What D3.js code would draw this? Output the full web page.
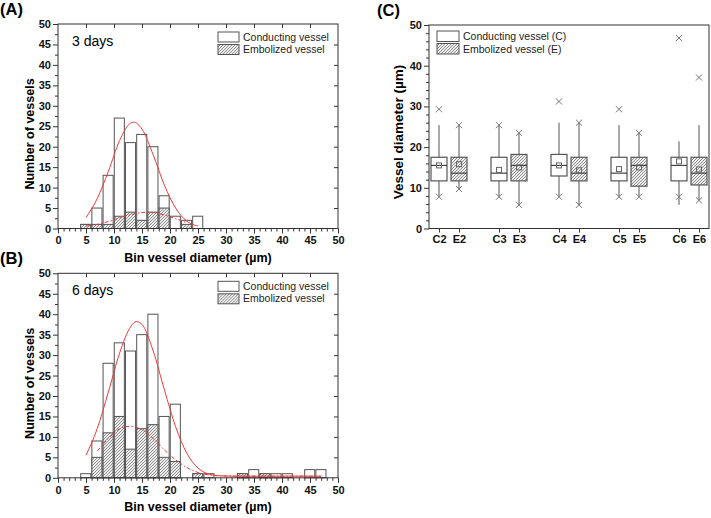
<!DOCTYPE html>
<html>
<head>
<meta charset="utf-8">
<script src="https://cdn.jsdelivr.net/npm/d3@7"></script>
<style>
  body { margin: 0; background: #fff; }
  svg { display: block; font-family: Arial, "Liberation Sans", sans-serif; }
</style>
</head>
<body>
<svg id="chart" width="711" height="518"></svg>
<script>
// ---- panel A (3 days) ----
const binStartsA = [4, 6, 8, 10, 12, 14, 16, 18, 20, 22, 24];
const conductingA = [1, 5, 13, 27, 21, 23, 20, 8, 3, 2, 3];
const embolizedA = [1, 1, 1, 3, 4, 2, 4, 5, 0, 1, 0];
const fitTotalAx = [5, 7, 9, 11, 13, 13.5, 15, 17, 19, 21, 23, 25];
const fitTotalAy = [2.7, 7.3, 14, 21.5, 25.8, 26, 24.3, 18, 10.6, 5, 1.8, 0.6];
const fitEmbAx = [5, 7, 9, 11, 13, 15, 16, 17, 19, 21, 23];
const fitEmbAy = [0.6, 1.0, 1.7, 2.6, 3.4, 3.9, 4.0, 3.9, 3.3, 2.4, 1.4];

// ---- panel B (6 days) ----
const binStartsB = [4, 6, 8, 10, 12, 14, 16, 18, 20, 24, 26, 32, 34, 36, 38, 40, 44, 46];
const conductingB = [1, 9, 28, 33, 31, 35, 40, 15, 18, 1, 1, 1, 2, 1, 1, 1, 2, 2];
const embolizedB = [0, 5, 11, 15, 7, 12, 13, 5, 4, 1, 0, 1, 0, 1, 0, 0, 0, 0];
const fitTotalBx = [5, 7, 9, 11, 13, 14, 15, 17, 19, 21, 23, 25, 27, 29, 32, 40, 47];
const fitTotalBy = [5.5, 12, 21, 30.5, 37, 38.2, 37.5, 31, 21.5, 12.5, 6, 2.4, 0.9, 0.5, 0.4, 0.4, 0.4];
const fitEmbBx = [7, 9, 11, 12.7, 15, 17, 19, 21, 23, 25, 27, 29, 32, 40, 47];
const fitEmbBy = [6.5, 9.6, 12, 12.6, 11.8, 9.6, 6.8, 4.4, 2.5, 1.3, 0.7, 0.45, 0.4, 0.4, 0.4];

// ---- panel C (box plot) ----
const boxLabels = ['C2', 'E2', 'C3', 'E3', 'C4', 'E4', 'C5', 'E5', 'C6', 'E6'];
const whiskerLow = [7.8, 9.7, 7.8, 5.8, 7.8, 5.8, 7.8, 7.8, 5.8, 6.9];
const q1 = [11.7, 11.7, 11.7, 11.7, 12.9, 11.7, 11.7, 10.4, 11.7, 10.7];
const median = [15.5, 13.6, 13.6, 15.5, 15.5, 13.6, 13.6, 15.5, 15.5, 13.6];
const q3 = [17.5, 17.5, 17.5, 18.2, 18.2, 17.5, 17.5, 17.5, 17.5, 17.5];
const whiskerHigh = [25.4, 25.4, 25.4, 23.5, 26.0, 26.0, 25.4, 23.5, 21.4, 25.4];
const means = [15.5, 15.8, 14.4, 15.0, 15.5, 14.3, 14.6, 15.0, 16.5, 14.5];
const minMark = [7.8, 9.7, 7.8, 5.8, 7.8, 5.8, 7.8, 7.8, 7.8, 6.9];
const maxMark = [29.3, 25.4, 25.4, 23.5, 31.2, 26.0, 29.3, 23.5, 46.8, 37.1];

const axisColor = '#333';
const edgeColor = '#555';
const red = '#f03a3a';

const svg = d3.select('#chart');
svg.append('rect').attr('width', 711).attr('height', 518).attr('fill', '#fff');

const defs = svg.append('defs');
const pat = defs.append('pattern')
    .attr('id', 'hatch')
    .attr('patternUnits', 'userSpaceOnUse')
    .attr('width', 3).attr('height', 3);
pat.append('rect').attr('width', 3).attr('height', 3).attr('fill', '#ededed');
pat.append('path')
    .attr('d', 'M-1,1 l2,-2 M0,3 l3,-3 M2,4 l2,-2')
    .attr('stroke', '#666').attr('stroke-width', 0.7);

function histogram(opts) {
  const { top, label, binStarts, conducting, embolized, fitTx, fitTy, fitEx, fitEy, panel, xLabelY } = opts;
  const x = d3.scaleLinear().domain([0, 50]).range([58, 338]);
  const y = d3.scaleLinear().domain([0, 50]).range([top + 204.5, top]);
  const g = svg.append('g');

  // bars: conducting (white), embolized (hatched) drawn over it
  const bars = binStarts.map((s, i) => ({ s, c: conducting[i], e: embolized[i] }));
  g.selectAll('rect.c').data(bars).join('rect')
      .attr('x', d => x(d.s + 0.05))
      .attr('width', d => x(d.s + 1.85) - x(d.s + 0.05))
      .attr('y', d => y(d.c))
      .attr('height', d => y(0) - y(d.c))
      .attr('fill', '#fff').attr('stroke', edgeColor).attr('stroke-width', 1);
  g.selectAll('rect.e').data(bars.filter(d => d.e > 0)).join('rect')
      .attr('x', d => x(d.s + 0.05))
      .attr('width', d => x(d.s + 1.85) - x(d.s + 0.05))
      .attr('y', d => y(d.e))
      .attr('height', d => y(0) - y(d.e))
      .attr('fill', 'url(#hatch)').attr('stroke', edgeColor).attr('stroke-width', 1);

  const line = d3.line().x(d => x(d[0])).y(d => y(d[1])).curve(d3.curveMonotoneX);
  g.append('path').datum(d3.zip(fitEx, fitEy))
      .attr('d', line).attr('fill', 'none').attr('stroke', red)
      .attr('stroke-width', 1).attr('stroke-dasharray', '4,2,1.5,2');
  g.append('path').datum(d3.zip(fitTx, fitTy))
      .attr('d', line).attr('fill', 'none').attr('stroke', red).attr('stroke-width', 1);

  // axes
  g.append('g').attr('transform', `translate(0,${y(0)})`)
      .call(d3.axisBottom(x).tickValues(d3.range(0, 51, 5)).tickSize(5).tickPadding(3));
  g.append('g').attr('transform', `translate(0,${y(0)})`)
      .call(d3.axisBottom(x).tickValues(d3.range(0, 51, 1).filter(v => v % 5)).tickSize(3).tickFormat(''));
  g.append('g').attr('transform', `translate(${x(0)},0)`)
      .call(d3.axisLeft(y).tickValues(d3.range(0, 51, 5)).tickSize(5).tickPadding(2));
  g.append('g').attr('transform', `translate(${x(0)},0)`)
      .call(d3.axisLeft(y).tickValues(d3.range(2.5, 50, 5)).tickSize(3).tickFormat(''));
  g.append('g').attr('transform', `translate(0,${y(50)})`)
      .call(d3.axisBottom(x).tickValues(d3.range(5, 50, 5)).tickSize(4).tickFormat(''));
  g.append('g').attr('transform', `translate(${x(50)},0)`)
      .call(d3.axisRight(y).tickValues(d3.range(5, 50, 5)).tickSize(-4).tickFormat(''));
  g.selectAll('.domain').remove();
  g.selectAll('.tick line').attr('stroke', axisColor);
  g.selectAll('.tick text').attr('font-size', 11).attr('font-weight', 'bold').attr('fill', '#111');
  g.append('rect').attr('x', x(0)).attr('y', y(50)).attr('width', x(50) - x(0))
      .attr('height', y(0) - y(50)).attr('fill', 'none').attr('stroke', axisColor).attr('stroke-width', 1);

  // labels
  g.append('text').attr('x', 72).attr('y', top + 22).attr('font-size', 14).text(label);
  g.append('text').attr('x', 198).attr('y', xLabelY).attr('text-anchor', 'middle')
      .attr('font-size', 12.5).attr('font-weight', 'bold').text('Bin vessel diameter (µm)');
  g.append('text').attr('transform', `translate(34,${top + 110}) rotate(-90)`)
      .attr('text-anchor', 'middle').attr('font-size', 12.5).attr('font-weight', 'bold')
      .text('Number of vessels');
  g.append('text').attr('x', 0).attr('y', top - 9).attr('font-size', 16.5).attr('font-weight', 'bold').text(panel);

  // legend
  const leg = g.append('g').attr('transform', `translate(218,${top + 8})`);
  [['Conducting vessel', '#fff'], ['Embolized vessel', 'url(#hatch)']].forEach((d, i) => {
    leg.append('rect').attr('x', 0).attr('y', i * 12.5).attr('width', 21).attr('height', 10)
        .attr('fill', d[1]).attr('stroke', edgeColor).attr('stroke-width', 1);
    leg.append('text').attr('x', 25).attr('y', i * 12.5 + 8.5).attr('font-size', 10.5).attr('fill', '#222').text(d[0]);
  });
}

histogram({ top: 24, label: '3 days', panel: '(A)', xLabelY: 262,
  binStarts: binStartsA, conducting: conductingA, embolized: embolizedA,
  fitTx: fitTotalAx, fitTy: fitTotalAy, fitEx: fitEmbAx, fitEy: fitEmbAy });
histogram({ top: 273.3, label: '6 days', panel: '(B)', xLabelY: 511,
  binStarts: binStartsB, conducting: conductingB, embolized: embolizedB,
  fitTx: fitTotalBx, fitTy: fitTotalBy, fitEx: fitEmbBx, fitEy: fitEmbBy });

// ---- panel C ----
(function () {
  const pos = i => Math.floor(i / 2) * 3 + (i % 2) + 1;
  const x = d3.scaleLinear().domain([0.5, 14.5]).range([429, 709]);
  const y = d3.scaleLinear().domain([0, 50]).range([228.5, 25]);
  const g = svg.append('g');
  const bw = x(0.4) - x(0);
  const boxes = boxLabels.map((lab, i) => ({
    lab, p: pos(i), lo: whiskerLow[i], q1: q1[i], md: median[i], q3: q3[i],
    hi: whiskerHigh[i], mean: means[i], mn: minMark[i], mx: maxMark[i], emb: lab[0] === 'E'
  }));

  const b = g.selectAll('g.box').data(boxes).join('g').attr('class', 'box');
  b.append('line').attr('x1', d => x(d.p)).attr('x2', d => x(d.p))
      .attr('y1', d => y(d.hi)).attr('y2', d => y(d.q3)).attr('stroke', edgeColor);
  b.append('line').attr('x1', d => x(d.p)).attr('x2', d => x(d.p))
      .attr('y1', d => y(d.q1)).attr('y2', d => y(d.lo)).attr('stroke', edgeColor);
  b.append('rect').attr('x', d => x(d.p) - bw).attr('width', 2 * bw)
      .attr('y', d => y(d.q3)).attr('height', d => y(d.q1) - y(d.q3))
      .attr('fill', d => d.emb ? 'url(#hatch)' : '#fff').attr('stroke', edgeColor).attr('stroke-width', 1.2);
  b.append('line').attr('x1', d => x(d.p) - bw).attr('x2', d => x(d.p) + bw)
      .attr('y1', d => y(d.md)).attr('y2', d => y(d.md)).attr('stroke', '#444').attr('stroke-width', 1.2);
  b.append('rect').attr('x', d => x(d.p) - 2.5).attr('y', d => y(d.mean) - 2.5)
      .attr('width', 5).attr('height', 5).attr('fill', 'none').attr('stroke', '#666');
  const cross = d3.symbol().type(d3.symbolX).size(26);
  ['mn', 'mx'].forEach(k => {
    b.append('path').attr('d', cross)
        .attr('transform', d => `translate(${x(d.p)},${y(d[k])})`)
        .attr('fill', 'none').attr('stroke', '#777').attr('stroke-width', 1);
  });

  // axes
  g.append('g').attr('transform', `translate(${x(0.5)},0)`)
      .call(d3.axisLeft(y).tickValues(d3.range(0, 51, 10)).tickSize(5).tickPadding(2));
  g.append('g').attr('transform', `translate(${x(0.5)},0)`)
      .call(d3.axisLeft(y).tickValues(d3.range(2, 50, 2).filter(v => v % 10)).tickSize(3).tickFormat(''));
  g.append('g').attr('transform', `translate(0,${y(0)})`)
      .call(d3.axisBottom(x).tickValues(boxes.map(d => d.p)).tickSize(4).tickPadding(3)
        .tickFormat((d, i) => boxes[i].lab));
  g.selectAll('.domain').remove();
  g.selectAll('.tick line').attr('stroke', axisColor);
  g.selectAll('.tick text').attr('font-size', 11).attr('font-weight', 'bold').attr('fill', '#111');
  g.append('rect').attr('x', x(0.5)).attr('y', y(50)).attr('width', x(14.5) - x(0.5))
      .attr('height', y(0) - y(50)).attr('fill', 'none').attr('stroke', axisColor).attr('stroke-width', 1);

  g.append('text').attr('transform', 'translate(403,132) rotate(-90)')
      .attr('text-anchor', 'middle').attr('font-size', 13.5).attr('font-weight', 'bold')
      .text('Vessel diameter (µm)');
  g.append('text').attr('x', 377).attr('y', 16).attr('font-size', 16.5).attr('font-weight', 'bold').text('(C)');

  const leg = g.append('g').attr('transform', 'translate(437,31)');
  [['Conducting vessel (C)', '#fff'], ['Embolized vessel (E)', 'url(#hatch)']].forEach((d, i) => {
    leg.append('rect').attr('x', 0).attr('y', i * 12.5).attr('width', 22).attr('height', 10.5)
        .attr('fill', d[1]).attr('stroke', edgeColor).attr('stroke-width', 1);
    leg.append('text').attr('x', 26).attr('y', i * 12.5 + 9).attr('font-size', 10.5).attr('fill', '#222').text(d[0]);
  });
})();
</script>
</body>
</html>
